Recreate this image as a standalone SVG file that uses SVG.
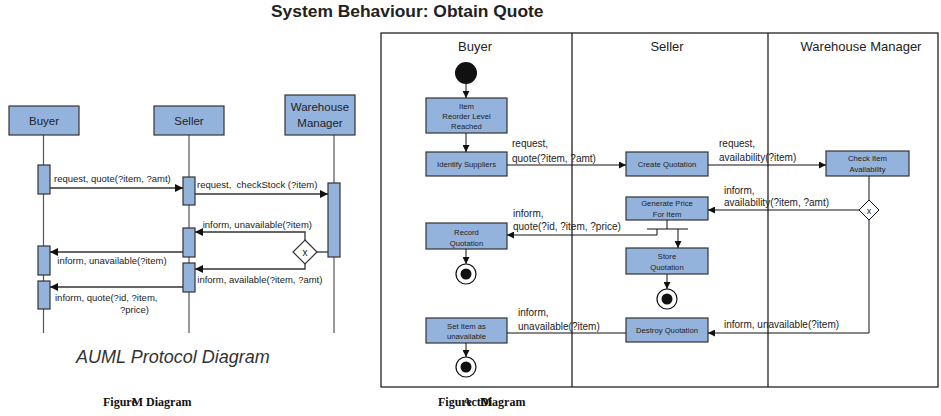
<svg xmlns="http://www.w3.org/2000/svg" width="941" height="416" viewBox="0 0 941 416">
<defs>
<style>
text{font-family:"Liberation Sans",Arial,sans-serif;fill:#222}
.title{font-size:17.4px;font-weight:bold}
.head{font-size:11.5px;text-anchor:middle}
.lane{font-size:13px;text-anchor:middle}
.lbl{font-size:9.5px}
.rl{font-size:10px}
.bx{font-size:7.7px;text-anchor:middle}
.box{fill:#94b3dc;stroke:#333;stroke-width:1.2}
.act{fill:#94b3dc;stroke:#333;stroke-width:1.2}
.life{stroke:#555;stroke-width:1.2;fill:none}
.msg{stroke:#333;stroke-width:1.3;fill:none}
.flow{stroke:#111;stroke-width:1;fill:none}
.cap{font-family:"Liberation Serif","Times New Roman",serif;font-size:12px;font-weight:bold;fill:#111}
</style>
<marker id="ah" viewBox="0 0 10 10" refX="10" refY="5" markerWidth="8" markerHeight="8" markerUnits="userSpaceOnUse" orient="auto"><path d="M0,0L10,5L0,10z" fill="#111"/></marker>
<marker id="ahs" viewBox="0 0 10 10" refX="10" refY="5" markerWidth="7" markerHeight="7" markerUnits="userSpaceOnUse" orient="auto"><path d="M0,0L10,5L0,10z" fill="#111"/></marker>
</defs>
<rect width="941" height="416" fill="#fff"/>
<text class="title" x="271" y="17">System Behaviour: Obtain Quote</text>

<!-- Left AUML diagram -->
<g id="lifelines">
<line class="life" x1="43.5" y1="135" x2="43.5" y2="333"/>
<line class="life" x1="189" y1="135" x2="189" y2="333"/>
<line class="life" x1="334" y1="135" x2="334" y2="333"/>
</g>
<g id="buyer-head"><rect class="box" x="9" y="106" width="70" height="29"/><text class="head" x="44" y="125">Buyer</text></g>
<g id="seller-head"><rect class="box" x="154" y="106" width="70" height="29"/><text class="head" x="189" y="125">Seller</text></g>
<g id="wm-head"><rect class="box" x="285" y="95" width="70" height="40"/><text class="head" x="320" y="111.3">Warehouse</text><text class="head" x="320" y="127.3">Manager</text></g>
<g id="buyer-act1"><rect class="act" x="38" y="165" width="12" height="29"/></g>
<g id="buyer-act2"><rect class="act" x="38" y="246" width="12" height="29"/></g>
<g id="buyer-act3"><rect class="act" x="38" y="281" width="12" height="28"/></g>
<g id="seller-act1"><rect class="act" x="183" y="177" width="12" height="28"/></g>
<g id="seller-act2"><rect class="act" x="183" y="228" width="12" height="29"/></g>
<g id="seller-act3"><rect class="act" x="183" y="263" width="12" height="29"/></g>
<g id="wm-act"><rect class="act" x="328" y="183" width="12" height="74"/></g>
<g id="auml-xor"><path d="M305,240L317,252L305,264L293,252z" fill="#fff" stroke="#333" stroke-width="1.2"/><text x="305" y="256" style="font-size:10px;text-anchor:middle">x</text></g>
<g id="auml-connectors">
<line class="msg" x1="50" y1="188" x2="183" y2="188" marker-end="url(#ah)"/>
<line class="msg" x1="195" y1="194" x2="328" y2="194" marker-end="url(#ah)"/>
<line class="msg" x1="317" y1="252" x2="328" y2="252"/>
<polyline class="msg" points="305,240 305,232 195,232" marker-end="url(#ah)"/>
<polyline class="msg" points="305,264 305,269 195,269" marker-end="url(#ah)"/>
<line class="msg" x1="183" y1="252" x2="50" y2="252" marker-end="url(#ah)"/>
<line class="msg" x1="183" y1="287" x2="50" y2="287" marker-end="url(#ah)"/>
</g>
<g id="auml-labels">
<text class="lbl" x="54" y="181.5">request, quote(?item, ?amt)</text>
<text class="lbl" x="197" y="188.3" xml:space="preserve">request,  checkStock (?item)</text>
<text class="lbl" x="202.7" y="228.3">inform, unavailable(?item)</text>
<text class="lbl" x="197.3" y="283.3">inform, available(?item, ?amt)</text>
<text class="lbl" x="57.3" y="264">inform, unavailable(?item)</text>
<text class="lbl" x="55" y="300.6">inform, quote(?id, ?item,</text>
<text class="lbl" x="120" y="312.6">?price)</text>
</g>
<text x="76" y="363" style="font-size:18px;font-style:italic;fill:#333">AUML Protocol Diagram</text>

<!-- Right activity diagram -->
<g id="swimlanes">
<rect x="381" y="33" width="557" height="354" fill="none" stroke="#222" stroke-width="1.3"/>
<line x1="572" y1="33" x2="572" y2="387" stroke="#222" stroke-width="1.3"/>
<line x1="768" y1="33" x2="768" y2="387" stroke="#222" stroke-width="1.3"/>
<text class="lane" x="475" y="51.3">Buyer</text>
<text class="lane" x="667" y="51.3">Seller</text>
<text class="lane" x="861" y="51.3">Warehouse Manager</text>
</g>
<g id="start"><circle cx="466" cy="73" r="11" fill="#111"/></g>
<g id="item-reorder"><rect class="box" x="426" y="98" width="81" height="35"/><text class="bx" x="466.5" y="109">Item</text><text class="bx" x="466.5" y="119">Reorder Level</text><text class="bx" x="466.5" y="129">Reached</text></g>
<g id="identify-suppliers"><rect class="box" x="426" y="152" width="81" height="24"/><text class="bx" x="466.5" y="166.7">Identify Suppliers</text></g>
<g id="create-quotation"><rect class="box" x="626" y="152" width="82" height="24"/><text class="bx" x="667" y="166.7">Create Quotation</text></g>
<g id="check-item"><rect class="box" x="826" y="151" width="83" height="25"/><text class="bx" x="867.5" y="160.6">Check Item</text><text class="bx" x="867.5" y="172.4">Availability</text></g>
<g id="generate-price"><rect class="box" x="626" y="197" width="82" height="23"/><text class="bx" x="667" y="205.7">Generate Price</text><text class="bx" x="667" y="216.7">For Item</text></g>
<g id="record-quotation"><rect class="box" x="426" y="223" width="81" height="26"/><text class="bx" x="466.5" y="234.7">Record</text><text class="bx" x="466.5" y="245.7">Quotation</text></g>
<g id="store-quotation"><rect class="box" x="626" y="248" width="82" height="26"/><text class="bx" x="667" y="258.7">Store</text><text class="bx" x="667" y="269.7">Quotation</text></g>
<g id="set-item"><rect class="box" x="426" y="318" width="81" height="25"/><text class="bx" x="466.5" y="328.7">Set Item as</text><text class="bx" x="466.5" y="339.4">unavailable</text></g>
<g id="destroy-quotation"><rect class="box" x="626" y="318" width="82" height="24"/><text class="bx" x="667" y="332.7">Destroy Quotation</text></g>
<g id="avail-xor"><path d="M869,200L879,210L869,220L859,210z" fill="#fff" stroke="#111" stroke-width="1"/><text x="869" y="213.5" style="font-size:9px;text-anchor:middle">x</text></g>
<g id="end-record"><circle cx="466" cy="274" r="10" fill="#fff" stroke="#111" stroke-width="1.2"/><circle cx="466" cy="274" r="5.5" fill="#111"/></g>
<g id="end-store"><circle cx="667" cy="299" r="10" fill="#fff" stroke="#111" stroke-width="1.2"/><circle cx="667" cy="299" r="5.5" fill="#111"/></g>
<g id="end-set"><circle cx="466" cy="367" r="10" fill="#fff" stroke="#111" stroke-width="1.2"/><circle cx="466" cy="367" r="5.5" fill="#111"/></g>
<g id="activity-connectors">
<line class="flow" x1="466" y1="84" x2="466" y2="98" marker-end="url(#ahs)"/>
<line class="flow" x1="466" y1="133" x2="466" y2="152" marker-end="url(#ahs)"/>
<line class="flow" x1="507" y1="165" x2="626" y2="165" marker-end="url(#ahs)"/>
<line class="flow" x1="708" y1="165" x2="826" y2="165" marker-end="url(#ahs)"/>
<line class="flow" x1="869" y1="176" x2="869" y2="200"/>
<line class="flow" x1="859" y1="210" x2="708" y2="210" marker-end="url(#ahs)"/>
<polyline class="flow" points="869,220 869,333 708,333" marker-end="url(#ahs)"/>
<line class="flow" x1="667" y1="220" x2="667" y2="229"/>
<line class="flow" x1="647" y1="229" x2="688" y2="229"/>
<polyline class="flow" points="657,229 657,235 507,235" marker-end="url(#ahs)"/>
<line class="flow" x1="678" y1="229" x2="678" y2="248" marker-end="url(#ahs)"/>
<line class="flow" x1="667" y1="274" x2="667" y2="289" marker-end="url(#ahs)"/>
<line class="flow" x1="466" y1="249" x2="466" y2="264" marker-end="url(#ahs)"/>
<line class="flow" x1="466" y1="343" x2="466" y2="357" marker-end="url(#ahs)"/>
<line class="flow" x1="626" y1="333" x2="507" y2="333"/>
</g>
<g id="activity-labels">
<text class="rl" x="512" y="147">request,</text>
<text class="rl" x="512" y="162">quote(?item, ?amt)</text>
<text class="rl" x="719" y="147">request,</text>
<text class="rl" x="719" y="161">availability(?item)</text>
<text class="rl" x="724" y="193.5">inform,</text>
<text class="rl" x="724" y="206">availability(?item, ?amt)</text>
<text class="rl" x="513" y="216.5">inform,</text>
<text class="rl" x="513" y="230">quote(?id, ?item, ?price)</text>
<text class="rl" x="518" y="316">inform,</text>
<text class="rl" x="518" y="329.5">unavailable(?item)</text>
<text class="rl" x="724" y="327.5">inform, unavailable(?item)</text>
</g>

<!-- Captions -->
<text class="cap" x="103" y="406">Figure<tspan dx="-5">M</tspan> Diagram</text>
<text class="cap" x="438" y="406">Figure<tspan dx="-9">ActM</tspan><tspan dx="-12">Diagram</tspan></text>
</svg>
